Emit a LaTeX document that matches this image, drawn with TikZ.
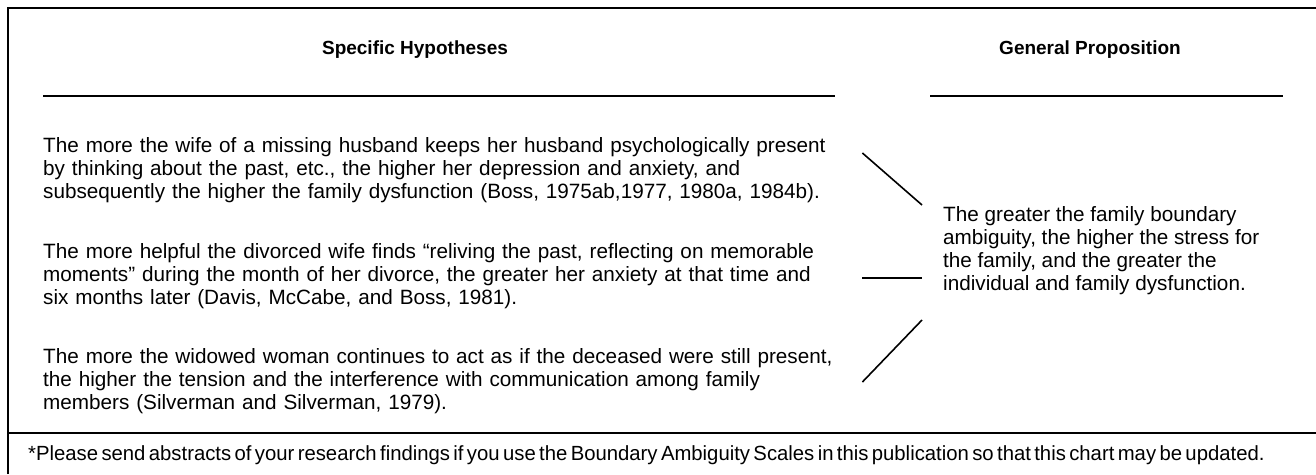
\documentclass[tikz,border=0pt]{standalone}
\usepackage{fontspec}
\setmainfont{Liberation Sans}
\newfontfamily\notefont[FakeStretch=0.99,WordSpace=0.6]{Liberation Sans}
\usetikzlibrary{positioning}

\begin{document}
\begin{tikzpicture}[
  x=1pt, y=-1pt,
  every node/.style={inner sep=0pt, font=\fontsize{20.7}{23}\selectfont},
  head/.style={font=\fontsize{19}{22}\selectfont\bfseries},
  hyp/.style={anchor=west, align=left, text width=810pt},
  rulebar/.style={line width=2.4pt},
  link/.style={line width=1.6pt},
]
\useasboundingbox (0,0) rectangle (1316,474);

% frame and rules
\draw[rulebar] (8,474) -- (8,8) -- (1316,8);
\draw[rulebar] (8,433) -- (1316,433);
\draw[rulebar] (43,96) -- (835,96);
\draw[rulebar] (930,96) -- (1283,96);

\node[head] (spec) at (415,50) {Specific Hypotheses};
\node[head] (gen) at (1090,50) {General Proposition};

\node[hyp] (h1) at (43,170) {The more the wife of a missing husband keeps her husband psychologically present\\
  by thinking about the past, etc., the higher her depression and anxiety, and\\
  subsequently the higher the family dysfunction (Boss, 1975ab,1977, 1980a, 1984b).};
\node[hyp] (h2) at (43,276) {The more helpful the divorced wife finds “reliving the past, reflecting on memorable\\
  moments” during the month of her divorce, the greater her anxiety at that time and\\
  six months later (Davis, McCabe, and Boss, 1981).};
\node[hyp] (h3) at (43,381) {The more the widowed woman continues to act as if the deceased were still present,\\
  the higher the tension and the interference with communication among family\\
  members (Silverman and Silverman, 1979).};

\node[anchor=west, align=left] (prop) at (943,251) {The greater the family boundary\\
  ambiguity, the higher the stress for\\
  the family, and the greater the\\
  individual and family dysfunction.};

\draw[link] ([xshift=9pt,yshift=17pt]h1.east) -- ([xshift=-21pt,yshift=46pt]prop.west);
\draw[link] ([xshift=9pt,yshift=-2pt]h2.east) -- ([xshift=-21pt,yshift=-27pt]prop.west);
\draw[link] ([xshift=9pt,yshift=-1pt]h3.east) -- ([xshift=-21pt,yshift=-69pt]prop.west);

\node[anchor=west, font=\notefont\fontsize{20.5}{23}\selectfont] (note) at (28,455)
  {*Please send abstracts of your research findings if you use the Boundary Ambiguity Scales in this publication so that this chart may be updated.};
\end{tikzpicture}
\end{document}
